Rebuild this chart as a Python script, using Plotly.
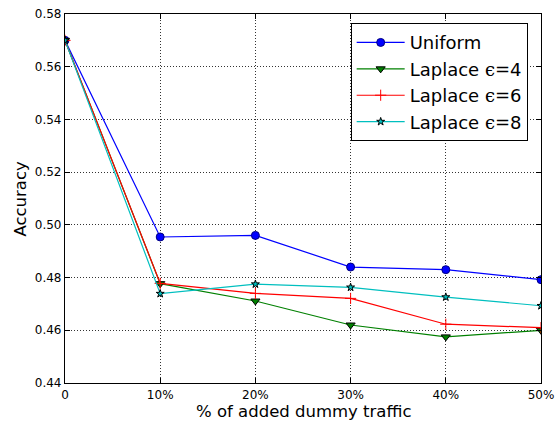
import plotly.graph_objects as go

# Amount of dummy traffic added (category positions) and their tick labels
x_pos = [0, 1, 2, 3, 4, 5]
x_labels = ["0", "10%", "20%", "30%", "40%", "50%"]

# Accuracy for each padding strategy
uniform = [0.570, 0.4954, 0.4960, 0.4840, 0.4830, 0.4792]
laplace_4 = [0.570, 0.4777, 0.4711, 0.4620, 0.4575, 0.4600]
laplace_6 = [0.570, 0.4778, 0.4740, 0.4721, 0.4623, 0.4610]
laplace_8 = [0.570, 0.4739, 0.4775, 0.4763, 0.4726, 0.4693]

y_ticks = [0.44, 0.46, 0.48, 0.50, 0.52, 0.54, 0.56, 0.58]

font_family = "DejaVu Sans, sans-serif"
eps = "<span style='font-family:DejaVu Serif'>ϵ=</span>"

series = [
    ("Uniform", uniform, "#0000ff",
     dict(symbol="circle", size=8, color="#0000ff", line=dict(color="#000080", width=1))),
    (f"Laplace {eps}4", laplace_4, "#008000",
     dict(symbol="triangle-down", size=8, color="#008000", line=dict(color="#000000", width=1))),
    (f"Laplace {eps}6", laplace_6, "#ff0000",
     dict(symbol="cross-thin", size=8, color="#ff0000", line=dict(color="#ff0000", width=1))),
    (f"Laplace {eps}8", laplace_8, "#00bfbf",
     dict(symbol="star", size=6, color="#00bfbf", line=dict(color="#000000", width=1))),
]

fig = go.Figure()
for name, ys, color, marker in series:
    fig.add_trace(go.Scatter(
        x=x_pos, y=ys, name=name, mode="lines+markers",
        line=dict(color=color, width=1.2),
        marker=marker,
    ))

axis_common = dict(
    showline=True, linecolor="black", linewidth=1.2, mirror="allticks",
    ticks="inside", ticklen=5, tickcolor="black", tickwidth=1,
    showgrid=True, gridcolor="#333333", griddash="1px,2px", gridwidth=0.8,
    zeroline=False, automargin=False,
    tickfont=dict(family=font_family, size=12, color="black"),
)

fig.update_xaxes(range=[0, 5], tickvals=x_pos, ticktext=x_labels,
                 ticklabeloverflow="allow", **axis_common)
fig.update_yaxes(range=[0.44, 0.58], tickvals=y_ticks,
                 ticktext=[f"{v:.2f}" for v in y_ticks], **axis_common)

title_font = dict(family=font_family, size=16.5, color="black")
fig.add_annotation(text="% of added dummy traffic", xref="paper", yref="paper",
                   x=0.5, y=-0.0759, xanchor="center", yanchor="middle",
                   showarrow=False, font=title_font)
fig.add_annotation(text="Accuracy", xref="paper", yref="paper",
                   x=-0.0945, y=0.5, xanchor="center", yanchor="middle",
                   textangle=-90, showarrow=False, font=title_font)

fig.update_layout(
    width=556, height=422,
    margin=dict(l=65, r=15, t=14, b=39),
    paper_bgcolor="white", plot_bgcolor="white",
    font=dict(family=font_family, color="black"),
    legend=dict(
        x=0.972, y=0.975, xanchor="right", yanchor="top",
        bordercolor="black", borderwidth=1, bgcolor="white",
        font=dict(family=font_family, size=18, color="black"),
        itemwidth=48,
    ),
)

fig.write_html("out.html")
